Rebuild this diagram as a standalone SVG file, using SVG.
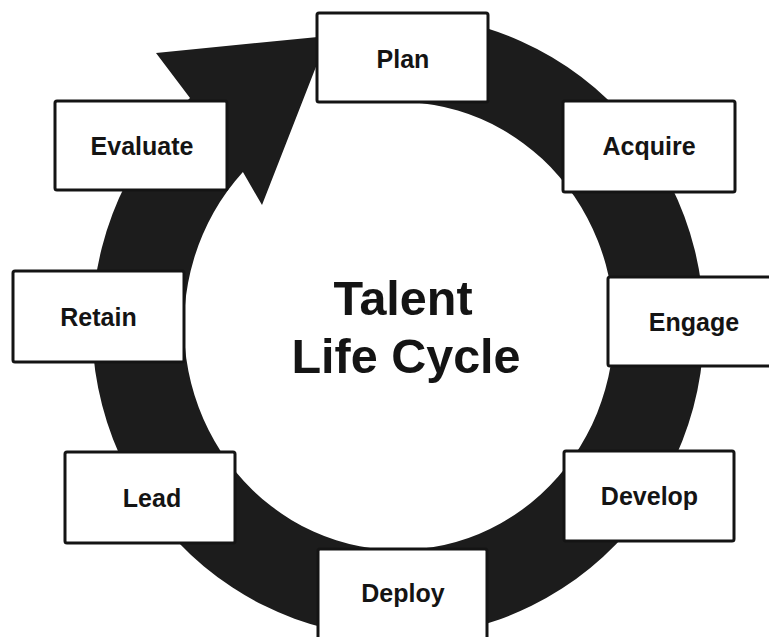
<svg xmlns="http://www.w3.org/2000/svg" width="769" height="637" viewBox="0 0 769 637">
  <style>
    .box { fill: #ffffff; stroke: #141414; stroke-width: 3; }
    .lbl { font-family: "Liberation Sans", Arial, sans-serif; font-weight: bold; font-size: 25px; fill: #141414; text-anchor: middle; }
    .title { font-family: "Liberation Sans", Arial, sans-serif; font-weight: bold; font-size: 48.5px; fill: #141414; text-anchor: middle; }
    .ring { fill: #1c1c1c; }
  </style>
  <rect x="0" y="0" width="769" height="637" fill="#ffffff"/>
  <g id="connectors">
    <path class="ring" d="M420,15.8 A306,311 0 1,1 190,97.9 L156,53 L328,36 L262,205 L242.9,172 A215,224 0 1,0 410,102.3 Z"/>
  </g>
  <g id="title">
    <text class="title" x="403" y="315">Talent</text>
    <text class="title" x="406" y="373">Life Cycle</text>
  </g>
  <g id="plan">
    <rect class="box" x="317" y="13" width="171" height="89" rx="2"/>
    <text class="lbl" x="403" y="68">Plan</text>
  </g>
  <g id="acquire">
    <rect class="box" x="563" y="101" width="172" height="91" rx="2"/>
    <text class="lbl" x="649" y="155">Acquire</text>
  </g>
  <g id="engage">
    <rect class="box" x="608" y="277" width="172" height="89" rx="2"/>
    <text class="lbl" x="694" y="331">Engage</text>
  </g>
  <g id="develop">
    <rect class="box" x="564" y="451" width="170" height="90" rx="2"/>
    <text class="lbl" x="649.5" y="505">Develop</text>
  </g>
  <g id="deploy">
    <rect class="box" x="318" y="549" width="169" height="92" rx="2"/>
    <text class="lbl" x="403" y="602">Deploy</text>
  </g>
  <g id="lead">
    <rect class="box" x="65" y="452" width="170" height="91" rx="2"/>
    <text class="lbl" x="152" y="507">Lead</text>
  </g>
  <g id="retain">
    <rect class="box" x="13" y="271" width="171" height="91" rx="2"/>
    <text class="lbl" x="98.5" y="326">Retain</text>
  </g>
  <g id="evaluate">
    <rect class="box" x="55" y="101" width="172" height="89" rx="2"/>
    <text class="lbl" x="142" y="155">Evaluate</text>
  </g>
</svg>
